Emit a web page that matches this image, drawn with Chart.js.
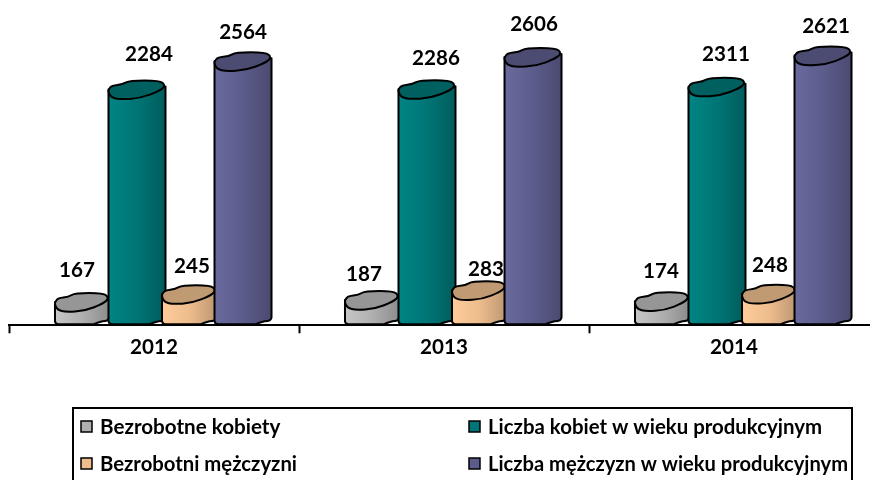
<!DOCTYPE html>
<html lang="pl">
<head>
<meta charset="utf-8">
<script src="https://cdn.jsdelivr.net/npm/chart.js@4"></script>
<style>
html,body{margin:0;padding:0;background:#fff;overflow:hidden}
#wrap{width:870px;height:480px;position:relative;overflow:hidden}
canvas{display:block}
</style>
</head>
<body>
<div id="wrap"><canvas id="c" width="888" height="480"></canvas></div>
<script>
const categories = ['2012', '2013', '2014'];
const bezrobotneKobiety = [167, 187, 174];
const liczbaKobiet = [2284, 2286, 2311];
const bezrobotniMezczyzni = [245, 283, 248];
const liczbaMezczyzn = [2564, 2606, 2621];
const seriesNames = ['Bezrobotne kobiety', 'Liczba kobiet w wieku produkcyjnym', 'Bezrobotni mężczyzni', 'Liczba mężczyzn w wieku produkcyjnym'];

// styling: [left, mid, right, top face]
const palette = [
  ['#c6c6c6', '#b0b0b0', '#8c8c8c', '#969696'],
  ['#008585', '#007575', '#005c5c', '#006060'],
  ['#ffcc99', '#eebd8e', '#bd9771', '#c09a72'],
  ['#6a6a9e', '#5c5c8c', '#4a4a70', '#4c4c72']
];
const depthX = 9, depthY = 6.5;
const drawWidths = [54, 57, 54, 57];
const seriesNudge = [0, 1, -1, -1];
// label offsets from the projected top of each cylinder: per series, per year
const labelOffsets = [
  [[-5, -32], [-8, -26], [-1, -30]],
  [[12, -35], [9, -31], [9, -32]],
  [[3, -28], [7, -21], [1, -29]],
  [[0, -29], [1, -33], [3, -29]]
];
const font = '700 20.6px Lato, Carlito, sans-serif';
const topShape = [[0,0],[.06,-4],[.25,-5],[.37,-9],[.9,-9],[1,-4],[.9,1.5],[.55,9],[.2,10],[.05,8],[0,3]];

function smoothClosed(ctx, pts) {
  const n = pts.length;
  ctx.beginPath();
  ctx.moveTo((pts[n-1][0]+pts[0][0])/2, (pts[n-1][1]+pts[0][1])/2);
  for (let i = 0; i < n; i++) {
    const a = pts[i], b = pts[(i+1)%n];
    ctx.quadraticCurveTo(a[0], a[1], (a[0]+b[0])/2, (a[1]+b[1])/2);
  }
  ctx.closePath();
}

const cylinders = {
  id: 'cylinders',
  beforeDatasetsDraw(chart) {
    const ctx = chart.ctx;
    chart.data.datasets.forEach((ds, di) => {
      chart.getDatasetMeta(di).data.forEach((bar, i) => {
        const w = drawWidths[di];
        const cx = bar.x + depthX + seriesNudge[di];
        const left = cx - w / 2;
        const cy = bar.y - depthY, by = bar.base - 1;
        const c = palette[di];
        const g = ctx.createLinearGradient(left, 0, left + w, 0);
        g.addColorStop(0, c[0]); g.addColorStop(.5, c[1]); g.addColorStop(1, c[2]);
        ctx.save();
        ctx.lineWidth = 2; ctx.strokeStyle = '#000'; ctx.lineJoin = 'round';
        ctx.beginPath();
        ctx.moveTo(left, cy);
        ctx.lineTo(left, by - 3);
        ctx.quadraticCurveTo(left + .01*w, by, left + .07*w, by);
        ctx.lineTo(left + .72*w, by);
        ctx.quadraticCurveTo(left + .8*w, by - 2, left + .88*w, by - 3);
        ctx.quadraticCurveTo(left + w, by - 3, left + w, by - 7);
        ctx.lineTo(left + w, cy - 3);
        ctx.closePath();
        ctx.fillStyle = g; ctx.fill(); ctx.stroke();
        smoothClosed(ctx, topShape.map(p => [left + p[0]*w, cy + p[1]]));
        ctx.fillStyle = c[3]; ctx.fill(); ctx.stroke();
        ctx.restore();
      });
    });
    // value labels
    ctx.save();
    ctx.font = font; ctx.fillStyle = '#000'; ctx.textAlign = 'center'; ctx.textBaseline = 'middle';
    chart.data.datasets.forEach((ds, di) => {
      chart.getDatasetMeta(di).data.forEach((bar, i) => {
        const o = labelOffsets[di][i];
        ctx.fillText(String(ds.data[i]), bar.x + depthX + seriesNudge[di] + o[0], bar.y - depthY + o[1]);
      });
    });
    ctx.restore();
    return false;
  }
};

const legendBox = {
  id: 'legendBox',
  afterDraw(chart) {
    const ctx = chart.ctx;
    ctx.save();
    ctx.strokeStyle = '#000'; ctx.lineWidth = 2;
    ctx.strokeRect(73, 408, 779, 90);
    const cols = [81, 469], rows = [427, 464];
    const layout = [[0,0],[1,0],[0,1],[1,1]];
    ctx.font = font; ctx.textBaseline = 'middle'; ctx.textAlign = 'left';
    chart.data.datasets.forEach((ds, di) => {
      const x = cols[layout[di][0]], y = rows[layout[di][1]];
      ctx.fillStyle = palette[di][1];
      ctx.lineWidth = 1.5;
      ctx.fillRect(x, y - 6, 11, 11);
      ctx.strokeRect(x, y - 6, 11, 11);
      ctx.fillStyle = '#000';
      ctx.fillText(ds.label, x + 19, y, layout[di][0] === 1 ? (layout[di][1] === 1 ? 360 : 334) : 197);
    });
    ctx.restore();
  }
};

new Chart(document.getElementById('c'), {
  type: 'bar',
  data: {
    labels: categories,
    datasets: [bezrobotneKobiety, liczbaKobiet, bezrobotniMezczyzni, liczbaMezczyzn].map((d, i) => ({
      label: seriesNames[i],
      data: d,
      backgroundColor: palette[i][1],
      borderColor: '#000'
    }))
  },
  options: {
    responsive: false,
    animation: false,
    layout: { padding: { left: 9, right: 9, top: 24, bottom: 118 } },
    datasets: { bar: { categoryPercentage: 0.745, barPercentage: 1 } },
    plugins: { legend: { display: false }, tooltip: { enabled: false } },
    scales: {
      y: { display: false, min: 0, max: 3000 },
      x: {
        border: { display: true, color: '#000', width: 2 },
        grid: { drawOnChartArea: false, drawTicks: true, tickLength: 8, tickColor: '#000', tickWidth: 2, offset: true },
        ticks: { color: '#000', font: { family: 'Lato, Carlito, sans-serif', size: 20.6, weight: '700' }, padding: 2, maxRotation: 0 }
      }
    }
  },
  plugins: [cylinders, legendBox]
});
</script>
</body>
</html>
